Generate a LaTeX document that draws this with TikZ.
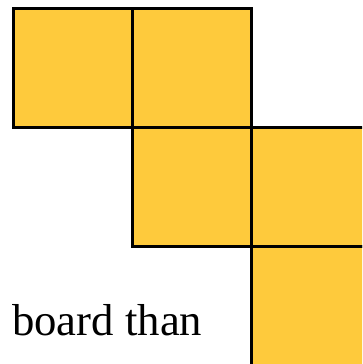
\documentclass[tikz,border=0pt]{standalone}
\usepackage{fontspec}
\setmainfont{Liberation Serif}
\definecolor{tile}{RGB}{254,202,60}
\begin{document}
\begin{tikzpicture}[x=1pt,y=-1pt,
  tilebox/.style={draw=black,fill=tile,line width=3pt}]
\useasboundingbox (0,0) rectangle (362,364);
\begin{scope}
\clip (0,0) rectangle (362,364);
\draw[tilebox] (13,8) rectangle (132,127);
\draw[tilebox] (132,8) rectangle (251,127);
\draw[tilebox] (132,127) rectangle (251,246);
\draw[tilebox] (251,127) rectangle (372,246);
\draw[tilebox] (251,246) rectangle (372,372);
\end{scope}
\node[anchor=base west,inner sep=0pt,font=\fontsize{43}{50}\selectfont] (t) at (12,335) {\resizebox{190pt}{!}{board than}};
\end{tikzpicture}
\end{document}
